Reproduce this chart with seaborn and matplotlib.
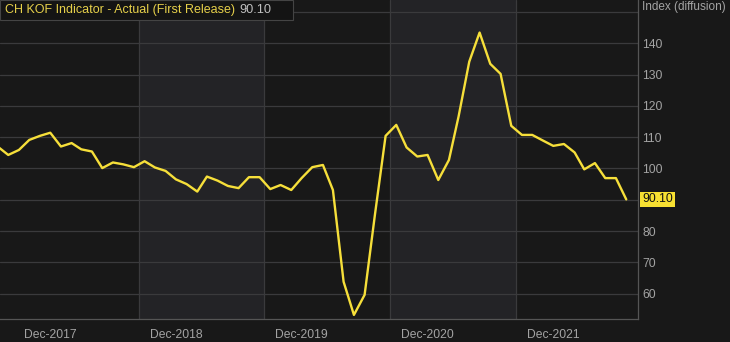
import matplotlib
matplotlib.use("Agg")
import matplotlib.pyplot as plt
import matplotlib.dates as mdates
import matplotlib.transforms as mtransforms
import seaborn as sns
import pandas as pd
import numpy as np

# ---- data ----
start_month = "2017-07-01"
kof_values = [
    107.0, 104.3, 105.9, 109.1, 110.4, 111.4,            # Jul-Dec 2017
    107.0, 108.1, 106.1, 105.4, 100.1, 101.9,            # Jan-Jun 2018
    101.3, 100.4, 102.3, 100.3, 99.2, 96.5,              # Jul-Dec 2018
    95.0, 92.6, 97.4, 96.1, 94.4, 93.7,                  # Jan-Jun 2019
    97.2, 97.2, 93.4, 94.7, 93.1, 96.9,                  # Jul-Dec 2019
    100.4, 101.1, 93.1, 63.8, 53.2, 59.6,                # Jan-Jun 2020
    85.2, 110.4, 113.9, 106.7, 103.8, 104.3,             # Jul-Dec 2020
    96.3, 102.7, 116.6, 134.1, 143.4, 133.4,             # Jan-Jun 2021
    130.2, 113.6, 110.7, 110.7, 108.9, 107.2,            # Jul-Dec 2021
    107.8, 105.1, 99.7, 101.7, 96.9, 96.9,               # Jan-Jun 2022
    90.1,                                                # Jul 2022
]
y_ticks = [60, 70, 80, 90, 100, 110, 120, 130, 140, 150]
y_tick_labels = ["60", "70", "80", "", "100", "110", "120", "130", "140", ""]
x_tick_dates = ["2017-12-01", "2018-12-01", "2019-12-01", "2020-12-01", "2021-12-01"]
x_tick_labels = ["Dec-2017", "Dec-2018", "Dec-2019", "Dec-2020", "Dec-2021"]
band_edges = ["2018-08-15", "2019-08-15", "2020-08-15", "2021-08-15"]
series_name = "CH KOF Indicator - Actual (First Release)"
last_label = "90.10"
axis_title = "Index (diffusion)"

dates = pd.date_range(start_month, periods=len(kof_values), freq="MS")
df = pd.DataFrame({"date": dates, "value": kof_values})

# ---- style ----
BG = "#181818"
BAND = "#232326"
GRID = "#3a3a3c"
TXT = "#a3a3a3"
YEL = "#f6df3a"

sns.set_style("dark")
plt.rcParams["font.family"] = ["Liberation Sans", "DejaVu Sans"]

fig = plt.figure(figsize=(7.30, 3.42), dpi=100, facecolor=BG)
ax = fig.add_axes([0.0, 22.7 / 342, 638.3 / 730, 1 - 22.7 / 342])
ax.set_facecolor(BG)

# alternating bands
edges = pd.to_datetime(band_edges)
ax.axvspan(edges[0], edges[1], color=BAND, zorder=0, lw=0)
ax.axvspan(edges[2], edges[3], color=BAND, zorder=0, lw=0)
for e in edges:
    ax.axvline(e, color=GRID, lw=0.9, zorder=1)
for yv in y_ticks:
    ax.axhline(yv, color=GRID, lw=0.9, zorder=1)

sns.lineplot(data=df, x="date", y="value", ax=ax, color=YEL, lw=1.7,
             zorder=3, legend=False)

ax.set_xlim(pd.Timestamp("2017-07-08"), pd.Timestamp("2022-08-05"))
ax.set_ylim(51.8, 153.8)
ax.grid(False)

ax.yaxis.tick_right()
ax.set_yticks(y_ticks)
ax.set_yticklabels(y_tick_labels)
ax.set_xticks(pd.to_datetime(x_tick_dates))
ax.set_xticklabels(x_tick_labels)
ax.tick_params(axis="x", colors=TXT, labelsize=8.7, length=4, width=0.8,
               direction="out", pad=3, color="#6a6a6a")
ax.tick_params(axis="y", colors=TXT, labelsize=8.7, length=0, pad=3)
ax.set_xlabel("")
ax.set_ylabel("")

for s in ["top", "left"]:
    ax.spines[s].set_visible(False)
for s in ["bottom", "right"]:
    ax.spines[s].set_visible(True)
    ax.spines[s].set_color("#555555")
    ax.spines[s].set_linewidth(0.9)

# legend box at top-left
fig.patches.append(plt.Rectangle((0, 1 - 20 / 342), 293 / 730, 20 / 342,
                                 transform=fig.transFigure, facecolor="#141414",
                                 edgecolor="#444444", lw=0.8, zorder=5))
fig.text(5 / 730, 1 - 10 / 342, series_name, color="#e6d04a", fontsize=9.0,
         va="center", ha="left", zorder=6)
fig.text(239 / 730, 1 - 10 / 342, last_label, color="#c0c0c0", fontsize=9.2,
         va="center", ha="left", zorder=6)

# axis title
fig.text(642 / 730, 1 - 7 / 342, axis_title, color=TXT, fontsize=8.5,
         va="center", ha="left")

# last value label
trans = mtransforms.blended_transform_factory(ax.transAxes, ax.transData)
ax.text(1.0 + 4 / 638.3, kof_values[-1], last_label, transform=trans,
        color="#111111", fontsize=8.7, va="center", ha="left",
        bbox=dict(boxstyle="square,pad=0.15", facecolor="#f7e032", edgecolor="none"),
        clip_on=False, zorder=6)

fig.savefig("out.png", dpi=100, facecolor=BG)
